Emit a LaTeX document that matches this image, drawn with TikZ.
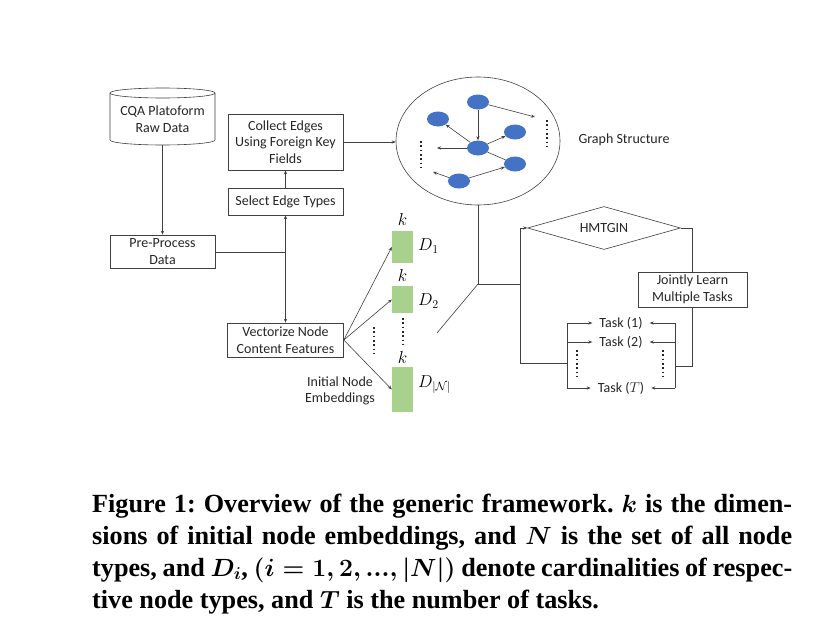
\documentclass[tikz,border=0pt]{standalone}
\usepackage{fontspec}
\setmainfont{Liberation Serif}
\newfontfamily\diagfont{Carlito}
\usetikzlibrary{shapes.geometric,arrows.meta,calc}
\definecolor{gblue}{HTML}{4472C4}
\definecolor{ggreen}{HTML}{A9D18E}
\definecolor{lncol}{HTML}{404040}
\frenchspacing
\begin{document}
\begin{tikzpicture}[x=1pt,y=-1pt,
  lbl/.style={font=\diagfont\fontsize{14}{16.5}\selectfont, align=center, text=black!85},
  box/.style={lbl, draw=lncol, line width=0.6pt, inner sep=0pt},
  ln/.style={line width=0.6pt, draw=lncol},
  arr/.style={ln, -{Stealth[length=4pt,width=3.2pt]}},
  gnode/.style={ellipse, fill=gblue, minimum width=22pt, minimum height=15pt, inner sep=0pt},
  gbar/.style={fill=ggreen, minimum width=21pt, inner sep=0pt},
  mlbl/.style={font=\fontsize{17}{20}\selectfont, inner sep=0pt},
  dotsline/.style={line width=1.8pt, dash pattern=on 1.6pt off 2.7pt, draw=black!85},
  capline/.style={font=\bfseries\boldmath\fontsize{26.2}{32}\selectfont, anchor=base west, inner sep=0pt}]
\useasboundingbox[fill=white] (0,0) rectangle (833,637);

% ---- left column
\draw[ln] (110,93) -- (110,140) arc[start angle=180, end angle=360, x radius=52.5pt, y radius=5pt] -- (215,93);
\draw[ln] (162.5,93) ellipse[x radius=52.5pt, y radius=5pt];
\node[lbl, minimum width=105pt, minimum height=52pt, inner sep=0pt] (cqa) at (162.5,119) {CQA Platoform\\Raw Data};
\node[box, minimum width=105pt, minimum height=33pt] (pre) at (162.5,251.5) {Pre-Process\\Data};
\node[box, minimum width=115pt, minimum height=56pt] (collect) at (285.5,142) {Collect Edges\\Using Foreign Key\\Fields};
\node[box, minimum width=115pt, minimum height=27pt] (select) at (285.5,201.5) {Select Edge Types};
\node[box, minimum width=116pt, minimum height=34pt] (vect) at (285.5,340) {Vectorize Node\\Content Features};
\coordinate (jn) at (285.5,252);

\draw[arr] (cqa.south) -- (pre.north);
\draw[ln] (pre.east |- jn) -- (jn);
\draw[arr] (jn) -- (select.south);
\draw[arr] (jn) -- (vect.north);
\draw[arr] (select.north) -- (collect.south);

% ---- embeddings
\node[gbar, minimum height=32pt] (b1) at (402.5,247) {};
\node[gbar, minimum height=27pt] (b2) at (402.5,299.5) {};
\node[gbar, minimum height=45pt] (b3) at (402.5,389.5) {};
\node[mlbl] (k1) at (402.5,219) {$k$};
\node[mlbl] (k2) at (402.5,275) {$k$};
\node[mlbl] (k3) at (402.5,357) {$k$};
\node[mlbl, anchor=west] (d1) at (418,246) {$D_1$};
\node[mlbl, anchor=west] (d2) at (418,301) {$D_2$};
\node[mlbl, anchor=west] (d3) at (418,385) {$D_{|\mathcal{N}|}$};
\draw[arr] (vect.east) -- (b1.west);
\draw[arr] (vect.east) -- (b2.west);
\draw[arr] (vect.east) -- (b3.west);
\draw[dotsline] (403,318) -- (403,346);
\draw[dotsline] (374,327) -- (374,355);
\node[lbl] (init) at (340,391) {Initial Node\\Embeddings};

% ---- graph structure
\node[draw=lncol, line width=0.6pt, ellipse, minimum width=164pt, minimum height=128pt, inner sep=0pt] (g) at (478,141) {};
\draw[arr] (collect.east) -- (collect.east -| g.west);
\node[lbl, anchor=west] (gs) at (575,140) {Graph Structure};
\node[gnode] (n1) at (478,102) {};
\node[gnode] (n2) at (438,119) {};
\node[gnode] (n3) at (515,132) {};
\node[gnode] (n4) at (478,148) {};
\node[gnode] (n5) at (515,164) {};
\node[gnode] (n6) at (459,181) {};
\coordinate (e1) at (535,117);
\coordinate (e2) at (437,148);
\coordinate (e3) at (433,172);
\draw[arr] (n1) -- (e1);
\draw[arr] (n1) -- (n4);
\draw[arr] (n4) -- (n2);
\draw[arr] (n4) -- (n3);
\draw[arr] (n4) -- (e2);
\draw[ln] (n4) -- (n5);
\draw[arr] (n6) -- (n5);
\draw[arr] (n6) -- (e3);
\draw[dotsline] (547,120) -- (547,149);
\draw[dotsline] (421,141) -- (421,171);

% ---- HMTGIN part
\node[lbl, diamond, draw=lncol, line width=0.6pt, aspect=3.55, minimum width=153pt, minimum height=43pt, inner sep=0pt] (hm) at (604,228) {HMTGIN};
\node[box, minimum width=109pt, minimum height=35pt] (jl) at (692.5,289.5) {Jointly Learn\\Multiple Tasks};
\node[lbl, inner xsep=7pt, inner ysep=1pt] (t1) at (621,323) {Task (1)};
\node[lbl, inner xsep=7pt, inner ysep=1pt] (t2) at (621,342) {Task (2)};
\node[lbl, inner xsep=7pt, inner ysep=1pt] (t3) at (621,388) {Task ($T$)};
\coordinate (gj) at (478,284);
\coordinate (lb) at (520,363);
\coordinate (tl1) at (567,323);
\coordinate (tl3) at (567,388);
\coordinate (tr1) at (675,323);
\coordinate (tr3) at (675,388);
\coordinate (dg) at (437,333);
\draw[ln] (g.south) -- (gj);
\draw[ln] (gj) -- (gj -| lb);
\draw[ln] (gj) -- (dg);
\draw[arr] (lb) -- (lb |- hm.west) -- (hm.west);
\draw[ln] (lb) -- (lb -| tl1);
\draw[ln] (tl1) -- (tl3);
\draw[arr] (tl1) -- (t1.west);
\draw[arr] (t2.west -| tl1) -- (t2.west);
\draw[arr] (tl3) -- (t3.west);
\draw[ln] (hm.east) -- (hm.east -| jl.north) -- (jl.north);
\draw[ln] (jl.south) -- (jl.south |- 0,366) -- (tr1 |- 0,366);
\draw[ln] (tr1) -- (tr3);
\draw[arr] (tr1) -- (t1.east);
\draw[arr] (t2.east -| tr1) -- (t2.east);
\draw[arr] (tr3) -- (t3.east);
\draw[dotsline] (577,350) -- (577,377);
\draw[dotsline] (663,350) -- (663,377);

% ---- caption
\node[capline] (c1) at (92,512) {\makebox[700pt][s]{Figure 1: Overview of the generic framework. $k$ is the dimen-}};
\node[capline] (c2) at (92,544) {\makebox[700pt][s]{sions of initial node embeddings, and $N$ is the set of all node}};
\node[capline] (c3) at (92,576) {\makebox[700pt][s]{types, and $D_i$, $(i = 1, 2, ..., |N|)$ denote cardinalities of respec-}};
\node[capline] (c4) at (92,608) {tive node types, and $T$ is the number of tasks.};
\end{tikzpicture}
\end{document}
